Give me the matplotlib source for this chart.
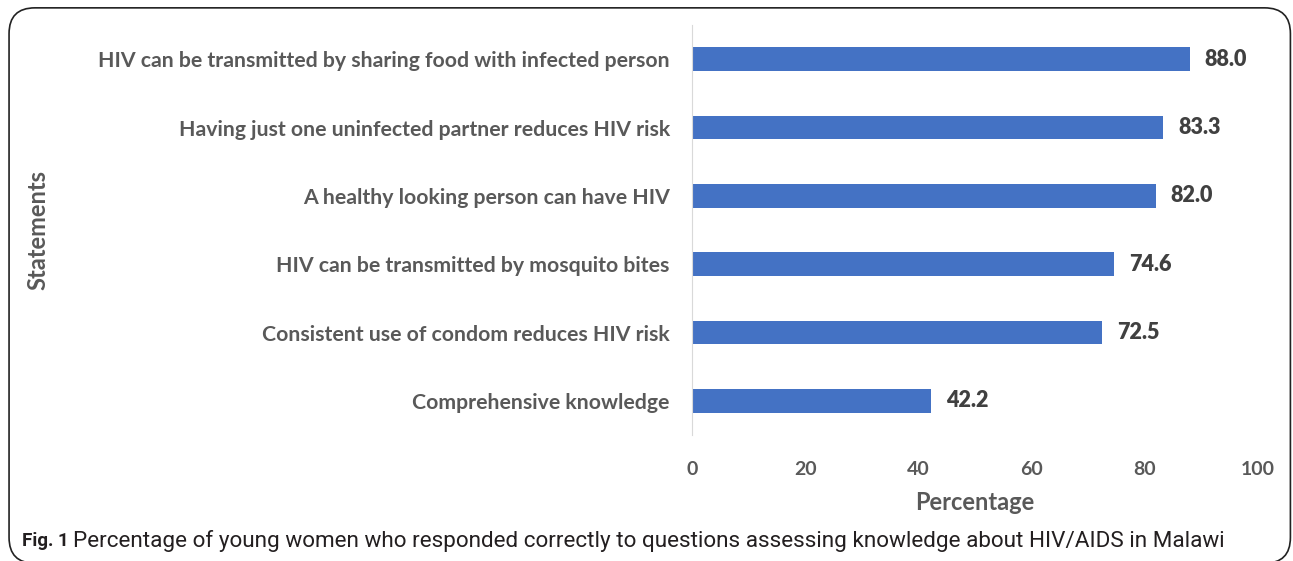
import matplotlib.pyplot as plt
from matplotlib.patches import FancyBboxPatch

statements = ["Comprehensive knowledge",
              "Consistent use of condom reduces HIV risk",
              "HIV can be transmitted by mosquito bites",
              "A healthy looking person can have HIV",
              "Having just one uninfected partner reduces HIV risk",
              "HIV can be transmitted by sharing food with infected person"]
percent = [42.2, 72.5, 74.6, 82.0, 83.3, 88.0]
xticks = [0, 20, 40, 60, 80, 100]

plt.rcParams['font.family'] = ['Lato', 'DejaVu Sans']
grey = '#595959'

fig = plt.figure(figsize=(12.93, 5.61), dpi=100)
ax = fig.add_axes([0.5352, 0.2246, 0.4377, 0.7308])

ypos = range(len(statements))
ax.barh(ypos, percent, height=0.35, color='#4472C4')
for y, v in zip(ypos, percent):
    ax.text(v + 2.6, y, f"{v:.1f}", va='center', ha='left',
            fontsize=15.5, fontweight='heavy', color='#404040')

ax.set_xlim(0, 100)
ax.set_ylim(-0.5, 5.5)
ax.set_yticks(list(ypos))
ax.set_yticklabels(statements, fontsize=15.3, fontweight='bold', color=grey)
ax.set_xticks(xticks)
ax.set_xticklabels([str(t) for t in xticks], fontsize=14, fontweight='bold', color=grey)
ax.tick_params(axis='both', length=0)
ax.tick_params(axis='y', pad=16)
ax.tick_params(axis='x', pad=19)
for s in ['top', 'right', 'bottom']:
    ax.spines[s].set_visible(False)
ax.spines['left'].set_color('#d9d9d9')

ax.set_xlabel("Percentage", fontsize=17, fontweight='bold', color=grey, labelpad=9)
fig.text(0.0294, 0.59, "Statements", rotation=90, ha='center', va='center',
         fontsize=17, fontweight='bold', color=grey)

# caption
fig.text(0.017, 0.036, "Fig. 1", fontsize=13.5, fontweight='bold', color='#231f20',
         ha='left', va='center', family=['Roboto', 'DejaVu Sans'])
fig.text(0.0565, 0.036, "Percentage of young women who responded correctly to questions assessing knowledge about HIV/AIDS in Malawi",
         fontsize=16.2, fontweight='normal', color='#231f20', ha='left', va='center',
         family=['Roboto', 'DejaVu Sans'])

# frame
frame = FancyBboxPatch((0.007, -0.004), 0.991, 0.99, boxstyle="round,pad=0,rounding_size=0.02",
                       transform=fig.transFigure, fill=False, edgecolor='#222222', linewidth=1.2,
                       mutation_aspect=2.3)
fig.patches.append(frame)

fig.savefig("out.png", dpi=100)
